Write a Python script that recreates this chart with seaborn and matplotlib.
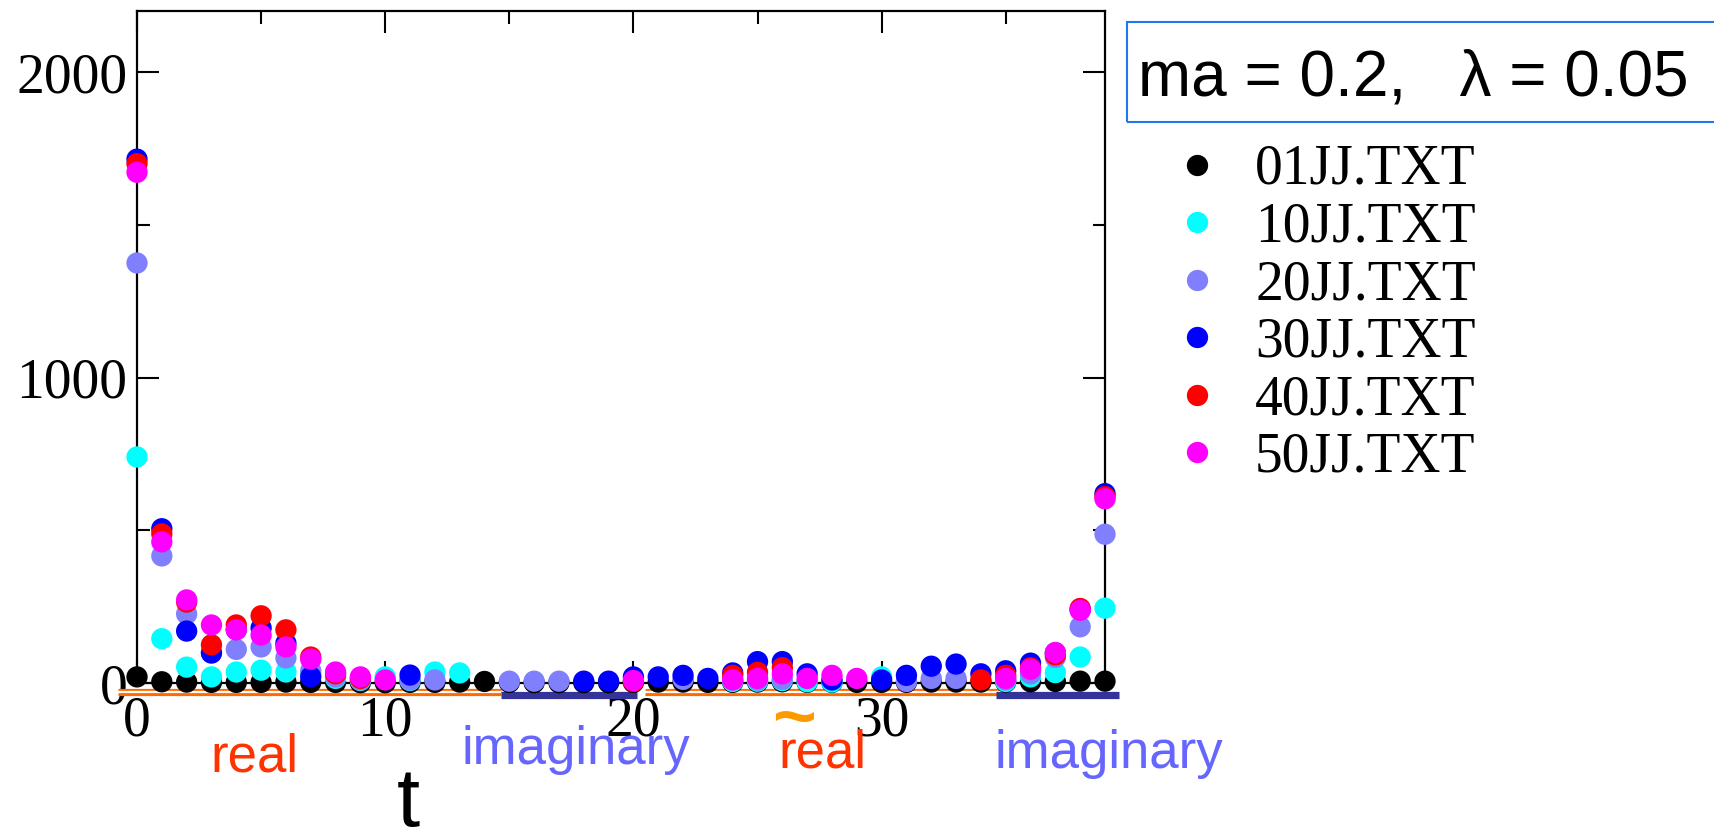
import numpy as np
import pandas as pd
import matplotlib.pyplot as plt
import seaborn as sns
from matplotlib.patches import Rectangle

# time slices
t = list(range(40))

# values (negative ones fall below the axis and are clipped)
jj01 = [20, 4, 3, 2, 2, 2, 3, 2, 2, 1, 1, 2, 2, 3, 5, 2, 1, 1, 1, 1,
        2, 3, 3, 2, 2, 3, 4, 2, 2, 2, 2, 2, 3, 3, 3, 3, 4, 5, 6, 6]
jj10 = [740, 145, 52, 20, 36, 42, 36, 30, 15, 8, 20, 8, 36, 33, -4, -3, -5, -2, -6, -3,
        -2, -4, -3, -2, 5, 6, 8, 4, 3, -2, 20, -3, -4, -2, -3, 5, 20, 34, 85, 245]
jj20 = [1375, 416, 226, 100, 110, 118, 82, 40, 20, 10, -3, 10, 10, -4, -2, 6, 6, 6, -3, -2,
        -4, -3, 12, -2, 10, 10, 12, -3, -2, -4, -3, 5, 15, 15, -2, 10, 30, 84, 184, 487]
jj30 = [1715, 505, 170, 98, 175, 180, 130, 20, -3, -2, -4, 26, -3, -2, -5, -3, -2, -4, 6, 6,
        20, 20, 25, 15, 33, 70, 70, 30, 10, -2, 10, 25, 55, 62, 30, 40, 65, 98, 240, 620]
jj40 = [1700, 488, 265, 125, 190, 220, 174, 85, 30, 15, -3, -2, -4, -3, -2, -5, -3, -2, -4, -3,
        5, -2, -3, -4, 25, 35, 50, -2, -3, -2, -4, -3, -2, -5, 10, 25, 50, 92, 244, 610]
jj50 = [1672, 462, 272, 190, 174, 157, 118, 78, 36, 20, 10, -3, -2, -4, -3, -2, -5, -3, -2, -4,
        8, -3, -2, -4, 10, 15, 30, 15, 25, 15, -2, -3, -4, -2, -3, 15, 45, 100, 238, 603]

files = ["01JJ.TXT", "10JJ.TXT", "20JJ.TXT", "30JJ.TXT", "40JJ.TXT", "50JJ.TXT"]
colors = ["#000000", "#00ffff", "#8080ff", "#0000ff", "#ff0000", "#ff00ff"]

# regions along t
real_spans = [(-0.75, 14.65), (20.45, 34.85)]
imag_spans = [(14.65, 20.15), (34.6, 39.55)]

df = pd.DataFrame({
    "t": t * 6,
    "value": jj01 + jj10 + jj20 + jj30 + jj40 + jj50,
    "file": np.repeat(files, len(t)),
})

sns.set_style("ticks")
plt.rcParams["font.family"] = ["Liberation Serif", "DejaVu Serif"]
plt.rcParams["text.color"] = "black"
plt.rcParams["xtick.color"] = "black"
plt.rcParams["ytick.color"] = "black"
plt.rcParams["axes.edgecolor"] = "black"
sans = ["Liberation Sans", "DejaVu Sans"]

W, H = 1715, 832
fig = plt.figure(figsize=(W / 100, H / 100), dpi=100)
ax = fig.add_axes([137 / W, 1 - 683 / H, 968 / W, 672 / H])

# points below zero are clipped like in the original plot
shown = df[df["value"] >= 0]
sns.scatterplot(data=shown, x="t", y="value", hue="file", hue_order=files,
                palette=colors, s=235, linewidth=0, clip_on=False, ax=ax, zorder=3)

ax.set_xlim(0, 39)
ax.set_ylim(0, 2200)
ax.set_xticks([0, 10, 20, 30])
ax.set_xticks([5, 15, 25, 35], minor=True)
ax.set_yticks([0, 1000, 2000])
ax.set_yticks([500, 1500], minor=True)
ax.tick_params(which="both", direction="in", top=True, right=True,
               width=1.5, color="black", labelcolor="black", labelsize=40)
ax.tick_params(which="major", length=16)
ax.tick_params(which="minor", length=9)
ax.tick_params(axis="y", pad=7)
ax.tick_params(axis="x", pad=9)
for sp in ax.spines.values():
    sp.set_linewidth(1.6)
    sp.set_color("black")
ax.set_xlabel("")
ax.set_ylabel("")


def yfrac(px):
    return (683 - px) / 672


tr = ax.get_xaxis_transform()
for a, b in real_spans:
    ax.plot([a, b], [yfrac(692)] * 2, color="#ff6a00", lw=5.2, transform=tr,
            clip_on=False, solid_capstyle="butt")
    ax.plot([a, b], [yfrac(692)] * 2, color="white", lw=1.6, transform=tr,
            clip_on=False, solid_capstyle="butt")
for a, b in imag_spans:
    ax.plot([a, b], [yfrac(695)] * 2, color="#333399", lw=5.2, transform=tr,
            clip_on=False, solid_capstyle="butt")

ax.text(4.71, yfrac(772), "real", color="#ff3300", fontsize=38, family=sans,
        ha="center", va="baseline", transform=tr)
ax.text(17.67, yfrac(764), "imaginary", color="#6666ff", fontsize=38, family=sans,
        ha="center", va="baseline", transform=tr)
ax.text(27.6, yfrac(767), "real", color="#ff3300", fontsize=38, family=sans,
        ha="center", va="baseline", transform=tr)
ax.text(26.5, yfrac(722), "~", color="#ff9900", fontsize=54, fontweight="bold",
        family=sans, ha="center", va="center", transform=tr)
ax.text(39.15, yfrac(768), "imaginary", color="#6666ff", fontsize=38, family=sans,
        ha="center", va="baseline", transform=tr)

fig.text(408 / W, 1 - 826 / H, "t", fontsize=60, family=sans, ha="center", va="baseline")

fig.add_artist(Rectangle((1127 / W, 1 - 122 / H), (W - 1117) / W, 100 / H,
                         transform=fig.transFigure, fill=False,
                         edgecolor="#2277ee", lw=1.5))
fig.text(1138 / W, 1 - 95 / H, "ma = 0.2,   λ = 0.05", fontsize=46, family=sans,
         va="baseline", ha="left")

sns.move_legend(ax, "upper left", bbox_to_anchor=(1169 / W, 1 - 144 / H),
                bbox_transform=fig.transFigure, title=None, frameon=False,
                fontsize=40, handlelength=1.0, handletextpad=0.55,
                labelspacing=0.1, borderpad=0, borderaxespad=0)

fig.savefig("out.png", dpi=100)
